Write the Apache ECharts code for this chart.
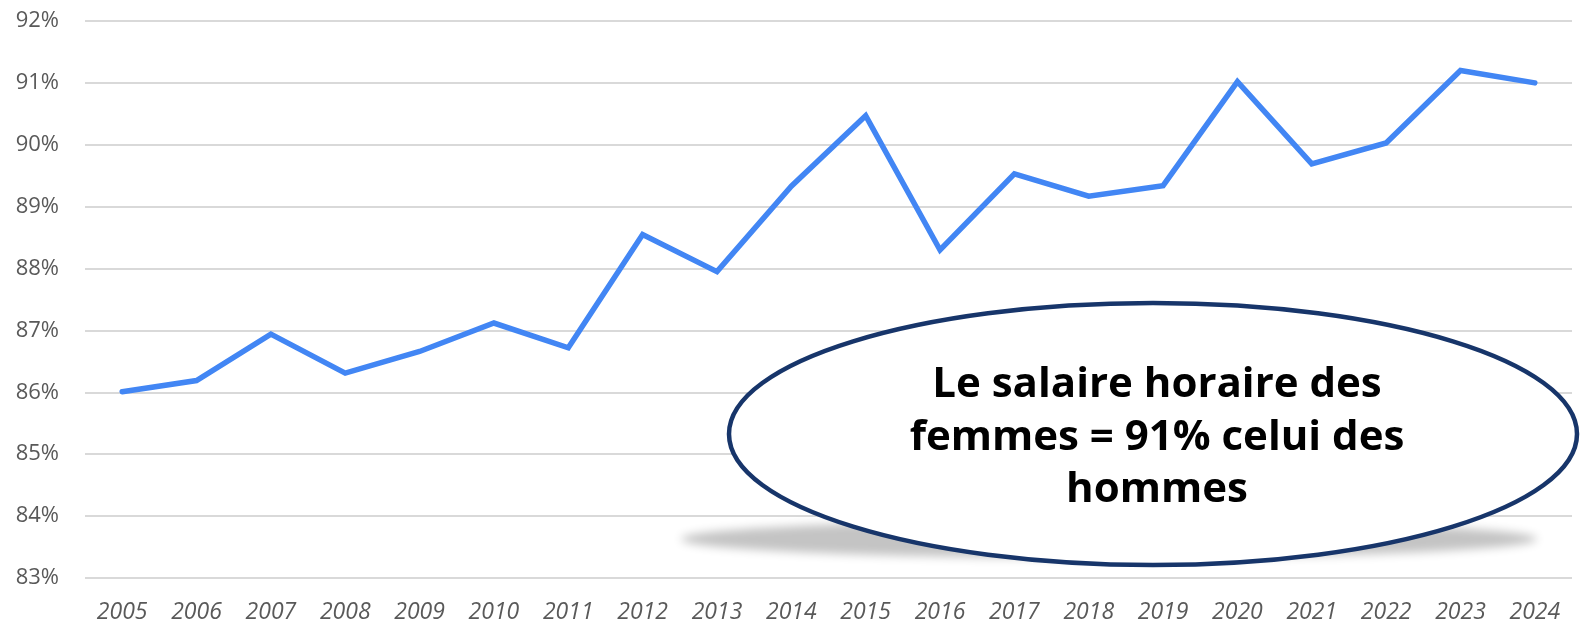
<!DOCTYPE html>
<html>
<head>
<meta charset="utf-8">
<script src="https://cdn.jsdelivr.net/npm/echarts@6/dist/echarts.min.js"></script>
<style>html,body{margin:0;padding:0;background:#fff}#c{width:1581px;height:624px}</style>
</head>
<body>
<div id="c"></div>
<script>
const years = ['2005','2006','2007','2008','2009','2010','2011','2012','2013','2014','2015','2016','2017','2018','2019','2020','2021','2022','2023','2024'];
const ratio = [86.01, 86.19, 86.94, 86.31, 86.66, 87.12, 86.72, 88.55, 87.95, 89.33, 90.47, 88.30, 89.53, 89.17, 89.34, 91.02, 89.69, 90.03, 91.20, 91.00];
const yMin = 83, yMax = 92, yStep = 1;
const note = 'Le salaire horaire des\nfemmes = 91% celui des\nhommes';

const chart = echarts.init(document.getElementById('c'), null, {renderer: 'canvas'});
chart.setOption({
  animation: false,
  grid: {left: 85, right: 9, top: 21, bottom: 45},
  xAxis: {
    type: 'category', data: years, boundaryGap: true,
    axisLine: {show: false}, axisTick: {show: false},
    axisLabel: {color: '#595959', fontFamily: 'Open Sans', fontStyle: 'italic', fontSize: 23, margin: 23}
  },
  yAxis: {
    type: 'value', min: yMin, max: yMax, interval: yStep,
    axisLine: {show: false}, axisTick: {show: false},
    axisLabel: {color: '#595959', fontFamily: 'Open Sans', fontSize: 22, margin: 26, formatter: v => v + '%'},
    splitLine: {lineStyle: {color: '#d9d9d9', width: 2}}
  },
  series: [{
    type: 'line', data: ratio, symbol: 'none',
    lineStyle: {color: '#4286f4', width: 5.5, cap: 'round', join: 'miter'}
  }],
  graphic: [
    {type: 'ellipse', z: 10, shape: {cx: 1109 - 3000, cy: 539, rx: 428, ry: 19},
     style: {fill: '#c8c8c8', shadowBlur: 10, shadowColor: 'rgba(196,196,196,1)', shadowOffsetX: 3000}},
    {type: 'ellipse', z: 11, shape: {cx: 1153, cy: 434, rx: 424, ry: 131},
     style: {fill: '#ffffff', stroke: '#17356a', lineWidth: 4.5}},
    {type: 'text', z: 12, x: 1157, y: 438,
     style: {text: note, fill: '#000', font: 'bold 42px "Open Sans"', align: 'center', verticalAlign: 'middle', lineHeight: 52.5}}
  ]
});
</script>
</body>
</html>
